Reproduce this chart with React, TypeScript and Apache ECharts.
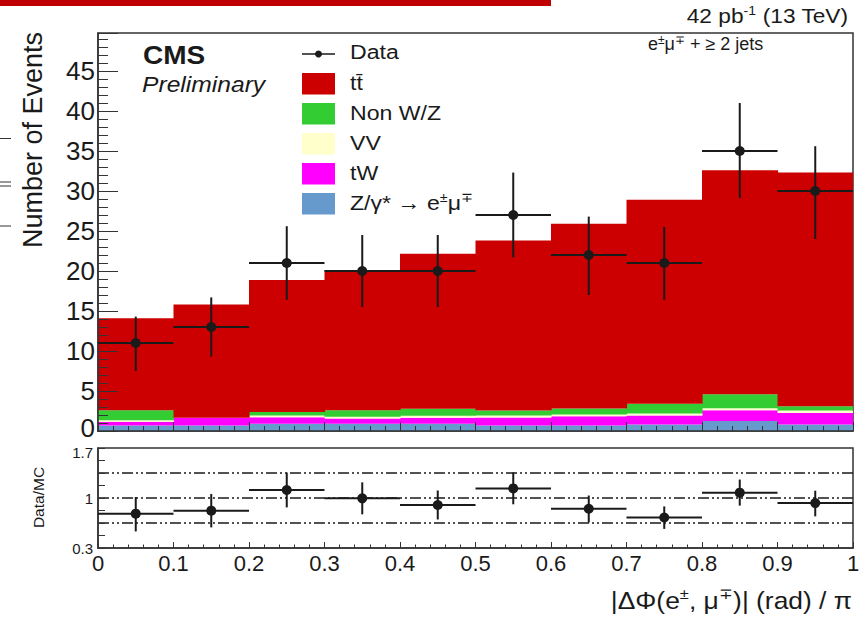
import React, { useEffect, useRef } from "react";
import * as echarts from "echarts";

// Binning in |Δφ(e,μ)| / π
const binEdges = [0, 0.1, 0.2, 0.3, 0.4, 0.5, 0.6, 0.7, 0.8, 0.9, 1.0];

// Observed events with their downward / upward uncertainties
const dataCounts = [11, 13, 21, 20, 20, 27, 22, 21, 35, 30];
const dataErrDown = [3.5, 3.7, 4.6, 4.5, 4.5, 5.3, 5.0, 4.6, 5.9, 6.0];
const dataErrUp = [3.3, 3.7, 4.6, 4.5, 4.5, 5.3, 4.8, 4.5, 6.0, 5.6];

// Simulated contributions, listed from the bottom of the stack upwards
const dyCounts = [0.7, 0.7, 0.9, 0.9, 0.9, 0.7, 0.7, 0.8, 1.25, 0.8];
const twCounts = [0.45, 0.95, 0.83, 0.67, 0.75, 1.0, 1.15, 1.15, 1.33, 1.45];
const vvCounts = [0.2, 0, 0.2, 0.2, 0.25, 0.25, 0.2, 0.25, 0.25, 0.3];
const nonWZCounts = [1.25, 0, 0.45, 0.83, 0.87, 0.6, 0.75, 1.2, 1.75, 0.55];
const ttbarCounts = [11.5, 14.15, 16.5, 17.5, 19.4, 21.25, 23.1, 25.5, 28.0, 29.2];

// Axis labelling
const mainYLabels = [0, 5, 10, 15, 20, 25, 30, 35, 40, 45];
const ratioYLabels = [0.3, 1, 1.7];
const ratioYTicks = [0.3, 0.475, 0.65, 0.825, 1.0, 1.175, 1.35, 1.525, 1.7];
const ratioRefLines = [0.65, 1.0, 1.35];

const FONT = '"Liberation Sans", Arial, Helvetica, sans-serif';
const INK = "#1a1a1a";
const FRAME = "#333";

const processes = [
  { name: "Z/γ* → e±μ∓", label: "{n|Z/γ* → e}{s|±}{n|μ}{s|∓}", counts: dyCounts, color: "#6699cc" },
  { name: "tW", label: "{n|tW}", counts: twCounts, color: "#ff00ff" },
  { name: "VV", label: "{n|VV}", counts: vvCounts, color: "#ffffcc" },
  { name: "Non W/Z", label: "{n|Non W/Z}", counts: nonWZCounts, color: "#33cc33" },
  { name: "tt̄", label: "{n|tt̄}", counts: ttbarCounts, color: "#cc0000" },
];

const nBins = dataCounts.length;
const mcTotal = Array.from({ length: nBins }, (_, i) =>
  processes.reduce((s, p) => s + p.counts[i], 0)
);

function renderStackRect(_params: any, api: any) {
  const tl = api.coord([api.value(0), api.value(3)]);
  const br = api.coord([api.value(1), api.value(2)]);
  return {
    type: "rect",
    shape: { x: tl[0], y: tl[1], width: br[0] - tl[0] + 0.6, height: br[1] - tl[1] },
    style: { fill: api.visual("color") },
  };
}

function renderErrorPoint(radius: number) {
  return (_params: any, api: any) => {
    const y = api.value(3);
    const pl = api.coord([api.value(0), y]);
    const pr = api.coord([api.value(1), y]);
    const pc = api.coord([api.value(2), y]);
    const pt = api.coord([api.value(2), api.value(5)]);
    const pb = api.coord([api.value(2), api.value(4)]);
    return {
      type: "group",
      children: [
        { type: "line", shape: { x1: pl[0], y1: pl[1], x2: pr[0], y2: pr[1] }, style: { stroke: INK, lineWidth: 2 } },
        { type: "line", shape: { x1: pt[0], y1: pt[1], x2: pb[0], y2: pb[1] }, style: { stroke: INK, lineWidth: 2 } },
        { type: "circle", shape: { cx: pc[0], cy: pc[1], r: radius }, style: { fill: INK } },
      ],
    };
  };
}

function renderRefLine(_params: any, api: any) {
  const a = api.coord([api.value(0), api.value(2)]);
  const b = api.coord([api.value(1), api.value(2)]);
  return {
    type: "line",
    shape: { x1: a[0], y1: a[1], x2: b[0], y2: b[1] },
    style: { stroke: INK, lineWidth: 1.3, lineDash: [11, 3, 2, 3, 2, 3] },
  };
}

function buildOption() {
  const stackSeries = processes.map((p, pi) => {
    const data = [] as number[][];
    for (let i = 0; i < nBins; i++) {
      let base = 0;
      for (let k = 0; k < pi; k++) base += processes[k].counts[i];
      if (p.counts[i] > 0) data.push([binEdges[i], binEdges[i + 1], base, base + p.counts[i]]);
    }
    return {
      type: "custom",
      name: p.name,
      xAxisIndex: 0,
      yAxisIndex: 0,
      clip: true,
      z: 2,
      itemStyle: { color: p.color },
      renderItem: renderStackRect,
      encode: { x: [0, 1], y: [2, 3] },
      data,
      silent: true,
    };
  });

  const dataPoints = dataCounts.map((v, i) => [
    binEdges[i],
    binEdges[i + 1],
    (binEdges[i] + binEdges[i + 1]) / 2,
    v,
    v - dataErrDown[i],
    v + dataErrUp[i],
  ]);

  const ratioPoints = dataCounts.map((v, i) => {
    const r = v / mcTotal[i];
    return [
      binEdges[i],
      binEdges[i + 1],
      (binEdges[i] + binEdges[i + 1]) / 2,
      r,
      r - dataErrDown[i] / mcTotal[i],
      r + dataErrUp[i] / mcTotal[i],
    ];
  });

  const tickStyle = { color: FRAME, width: 1 };
  const axisLine = { show: true, onZero: false, lineStyle: { color: FRAME, width: 1.5 } };

  const legendRows = [{ kind: "data" }, ...processes.slice().reverse().map((p) => ({ kind: "mc", p }))] as any[];
  const legendTop = 54;
  const legendGap = 30;
  const legendElems: any[] = [];
  const richBase = {
    n: { fontSize: 21, fontFamily: FONT, fill: INK, lineHeight: 24 },
    s: { fontSize: 13, fontFamily: FONT, fill: INK, lineHeight: 14, verticalAlign: "top" },
  };
  legendRows.forEach((row, i) => {
    const cy = legendTop + i * legendGap;
    if (row.kind === "data") {
      legendElems.push(
        { type: "line", shape: { x1: 302, y1: cy, x2: 335, y2: cy }, style: { stroke: INK, lineWidth: 1.5 } },
        { type: "circle", shape: { cx: 318.5, cy, r: 3.5 }, style: { fill: INK } }
      );
      legendElems.push({
        type: "text", x: 350, y: cy - 2, scaleX: 1.1,
        style: { text: "{n|Data}", rich: richBase, align: "left", verticalAlign: "middle" },
      });
    } else {
      legendElems.push({
        type: "rect", shape: { x: 302, y: cy - 11, width: 33, height: 21.5 },
        style: { fill: row.p.color },
      });
      legendElems.push({
        type: "text", x: 350, y: cy - 1, scaleX: 1.1,
        style: { text: row.p.label, rich: richBase, align: "left", verticalAlign: "middle" },
      });
    }
  });

  const graphic = [
    { type: "rect", shape: { x: 0, y: 0, width: 551, height: 6 }, style: { fill: "#c00000" } },
    { type: "line", shape: { x1: 0, y1: 138.5, x2: 11, y2: 138.5 }, style: { stroke: "#333", lineWidth: 1 } },
    { type: "line", shape: { x1: 0, y1: 182, x2: 11, y2: 182 }, style: { stroke: "#333", lineWidth: 1 } },
    { type: "line", shape: { x1: 0, y1: 186, x2: 11, y2: 186 }, style: { stroke: "#333", lineWidth: 1 } },
    { type: "line", shape: { x1: 0, y1: 226, x2: 11, y2: 226 }, style: { stroke: "#333", lineWidth: 1 } },
    {
      type: "text", x: 33, y: 140, rotation: Math.PI / 2,
      style: { text: "Number of Events", fontSize: 27, fontFamily: FONT, fill: INK, align: "center", verticalAlign: "middle" },
    },
    {
      type: "text", x: 38, y: 497.5, rotation: Math.PI / 2,
      style: { text: "Data/MC", fontSize: 15.5, fontFamily: FONT, fill: INK, align: "center", verticalAlign: "middle" },
    },
    {
      type: "text", x: 143, y: 56, scaleX: 1.12,
      style: { text: "CMS", fontSize: 25, fontWeight: "bold", fontFamily: FONT, fill: INK, align: "left", verticalAlign: "middle" },
    },
    {
      type: "text", x: 142, y: 84, scaleX: 1.12,
      style: { text: "Preliminary", fontSize: 22, fontStyle: "italic", fontFamily: FONT, fill: INK, align: "left", verticalAlign: "middle" },
    },
    {
      type: "text", x: 848, y: 16, scaleX: 1.08,
      style: {
        text: "{n|42 pb}{s|-1}{n| (13 TeV)}",
        rich: richBase,
        align: "right", verticalAlign: "middle",
      },
    },
    {
      type: "text", x: 648, y: 44,
      style: {
        text: "{n|e}{s|±}{n|μ}{s|∓}{n| + ≥ 2 jets}",
        rich: {
          n: { fontSize: 18, fontFamily: FONT, fill: INK, lineHeight: 20 },
          s: { fontSize: 12, fontFamily: FONT, fill: INK, lineHeight: 12, verticalAlign: "top" },
        },
        align: "left", verticalAlign: "middle",
      },
    },
    {
      type: "text", x: 852, y: 600, scaleX: 1.1,
      style: {
        text: "{n||ΔΦ(e}{s|±}{n|, μ}{s|∓}{n|)| (rad) / π}",
        rich: {
          n: { fontSize: 24, fontFamily: FONT, fill: INK, lineHeight: 28 },
          s: { fontSize: 15, fontFamily: FONT, fill: INK, lineHeight: 16, verticalAlign: "top" },
        },
        align: "right", verticalAlign: "middle",
      },
    },
    ...legendElems,
  ];

  return {
    animation: false,
    backgroundColor: "#ffffff",
    textStyle: { fontFamily: FONT },
    grid: [
      { left: 98, right: 14, top: 33, height: 398, show: true, borderColor: FRAME, borderWidth: 1.5, backgroundColor: "transparent" },
      { left: 98, right: 14, top: 448, height: 100, show: true, borderColor: FRAME, borderWidth: 1.5, backgroundColor: "transparent" },
    ],
    xAxis: [
      {
        gridIndex: 0, type: "value", min: 0, max: 1, interval: 0.1, z: 10,
        axisLine,
        axisTick: { show: true, inside: true, length: 9, lineStyle: tickStyle },
        minorTick: { show: true, splitNumber: 5, length: 5, lineStyle: tickStyle },
        axisLabel: { show: false },
        splitLine: { show: false },
      },
      {
        gridIndex: 1, type: "value", min: 0, max: 1, interval: 0.1, z: 10,
        axisLine,
        axisTick: { show: true, inside: true, length: 6, lineStyle: tickStyle },
        minorTick: { show: true, splitNumber: 5, length: 3.5, lineStyle: tickStyle },
        axisLabel: { show: true, fontSize: 22, color: INK, margin: 4, fontFamily: FONT },
        splitLine: { show: false },
      },
    ],
    yAxis: [
      {
        gridIndex: 0, type: "value", min: 0, max: 49.75, interval: 5, z: 10,
        axisLine,
        axisTick: { show: true, inside: true, length: 20, lineStyle: tickStyle },
        minorTick: { show: true, splitNumber: 5, length: 10, lineStyle: tickStyle },
        axisLabel: {
          show: true, fontSize: 26, lineHeight: 19, color: INK, margin: 3, fontFamily: FONT,
          formatter: (v: number) =>
            v === 0 ? "{lo|0}" : mainYLabels.includes(v) ? String(v) : "",
          rich: { lo: { fontSize: 26, fontFamily: FONT, color: INK, padding: [0, 0, 6, 0] } },
        },
        splitLine: { show: false },
      },
      {
        gridIndex: 1, type: "value", min: 0.3, max: 1.7, z: 10,
        axisLine,
        axisTick: { show: true, inside: true, length: 7, lineStyle: tickStyle, customValues: ratioYTicks },
        axisLabel: {
          show: true, fontSize: 15, lineHeight: 11, color: INK, margin: 5, fontFamily: FONT,
          customValues: ratioYLabels,
          formatter: (v: number) => (Math.abs(v - 1.7) < 1e-6 ? "{hi|1.7}" : String(v)),
          rich: { hi: { fontSize: 15, fontFamily: FONT, color: INK, padding: [8, 0, 0, 0] } },
        },
        splitLine: { show: false },
      },
    ],
    graphic,
    series: [
      ...stackSeries,
      {
        type: "custom",
        name: "Data",
        xAxisIndex: 0,
        yAxisIndex: 0,
        z: 20,
        renderItem: renderErrorPoint(5),
        encode: { x: [0, 1, 2], y: [3, 4, 5] },
        data: dataPoints,
        silent: true,
      },
      {
        type: "custom",
        name: "reference",
        xAxisIndex: 1,
        yAxisIndex: 1,
        z: 5,
        renderItem: renderRefLine,
        encode: { x: [0, 1], y: [2] },
        data: ratioRefLines.map((v) => [0, 1, v]),
        silent: true,
      },
      {
        type: "custom",
        name: "Data/MC",
        xAxisIndex: 1,
        yAxisIndex: 1,
        z: 20,
        renderItem: renderErrorPoint(5),
        encode: { x: [0, 1, 2], y: [3, 4, 5] },
        data: ratioPoints,
        silent: true,
      },
    ],
  };
}

export default function App() {
  const ref = useRef<HTMLDivElement>(null);
  useEffect(() => {
    if (!ref.current) return;
    const chart = echarts.init(ref.current, null, { renderer: "svg" });
    chart.setOption(buildOption() as any);
    return () => chart.dispose();
  }, []);
  return (
    <div
      ref={ref}
      style={{ position: "fixed", left: 0, top: 0, width: 867, height: 618, background: "#fff" }}
    />
  );
}
